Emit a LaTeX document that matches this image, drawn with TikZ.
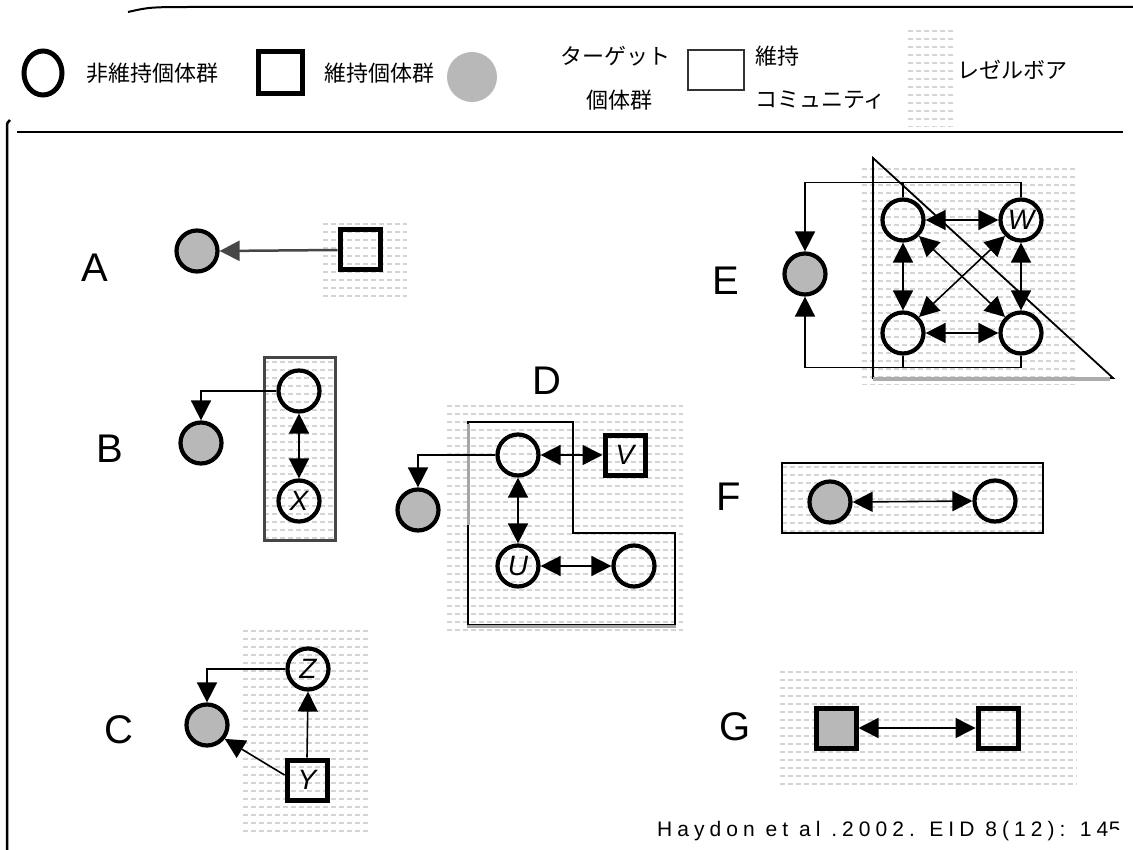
\documentclass[tikz,border=0pt]{standalone}
\usepackage{fontspec}
\setmainfont{Liberation Sans}
\newfontfamily\jpfont{Noto Sans CJK JP}
\newfontfamily\citefont[LetterSpace=24]{Liberation Sans}
\usetikzlibrary{arrows.meta}
\definecolor{tgray}{RGB}{184,184,184}
\definecolor{resdash}{RGB}{212,212,212}
\begin{document}
\begin{tikzpicture}[x=1pt,y=-1pt,
  tipend/.style={-{Triangle[length=20pt,width=20pt]}},
  tipboth/.style={{Triangle[length=20pt,width=20pt]}-{Triangle[length=20pt,width=20pt]}},
  res/.style={path picture={\foreach \k in {0,...,40}{\draw[resdash,line width=1.3pt,dash pattern=on 5pt off 3pt] ([yshift=-\k*8pt-4pt]path picture bounding box.north west) -- ([yshift=-\k*8pt-4pt]path picture bounding box.north east);}}},
  pop/.style={circle,draw,line width=4.2pt,minimum size=41pt,inner sep=0pt,font=\fontsize{28}{28}\selectfont\itshape},
  target/.style={pop,fill=tgray},
  maint/.style={rectangle,draw,line width=5pt,minimum size=40pt,inner sep=0pt,font=\fontsize{28}{28}\selectfont\itshape},
  con/.style={line width=1.6pt},
  lab/.style={font=\fontsize{40}{40}\selectfont},
  jp/.style={font=\jpfont\fontsize{22}{22}\selectfont,inner sep=0pt},
  comm/.style={draw,line width=2pt}
]
\useasboundingbox (0,0) rectangle (1133,850);
% frame lines
\draw[line width=2pt] (128,12) .. controls (150,7) .. (200,7) -- (1133,7);
\draw[line width=2.5pt] (17,132) -- (1123,132);
\draw[line width=2.5pt] (7,850) -- (7,128) .. controls (7,123) .. (10,120);

% legend
\draw[line width=5pt] (43,73) ellipse [x radius=19, y radius=22];
\node[jp,anchor=west] (l1) at (86,73) {非維持個体群};
\node[draw,line width=5pt,minimum width=44pt,minimum height=42pt] (l2s) at (280,73) {};
\node[jp,anchor=west] (l2) at (324,73) {維持個体群};
\fill[tgray] (472,77) circle [radius=25];
\node[jp] (l3a) at (615,56) {ターゲット};
\node[jp] (l3b) at (619,100) {個体群};
\draw[line width=1.8pt,gray!40!black] (688,50) rectangle (744,90);
\node[jp,anchor=west] (l4a) at (755,56) {維持};
\node[jp,anchor=west] (l4b) at (755,100) {コミュニティ};
\path[res] (908,27) rectangle (955,127);
\node[jp,anchor=west] (l5) at (957,70) {レゼルボア};

% reservoirs
\path[res] (323,220) rectangle (407,300);
\path[res] (243,627) rectangle (370,833);
\path[res] (447,402) rectangle (683,630);
\path[res] (862,165) rectangle (1075,385);
\path[res] (780,668) rectangle (1077,788);
\path[res,draw,line width=3pt,gray!55!black] (264,358) rectangle (335,540);
\path[res,draw,line width=2.5pt] (782,463) rectangle (1043,533);

% communities
\draw[comm] (468,422) -- (573,422) -- (573,533) -- (675,533) -- (675,625) -- (468,625) -- cycle;
\draw[line width=3pt,gray!70] (467,626) -- (676,626);
\draw[line width=3pt,gray!70] (468,424) -- (468,525);
\draw[line width=1.8pt] (873,158) -- (1113,378) -- (873,378) -- cycle;
\draw[line width=3.5pt,gray!65] (873,379) -- (1110,379);

% letters
\node[lab] (LA) at (95,268) {A};
\node[lab] (LB) at (110,449) {B};
\node[lab] (LC) at (119,730) {C};
\node[lab] (LD) at (547,381) {D};
\node[lab] (LE) at (726,281) {E};
\node[lab] (LF) at (729,497) {F};
\node[lab] (LG) at (735,727) {G};

% A
\node[target] (gA) at (197,251) {};
\node[maint] (sA) at (360,250) {};
\draw[tipend,line width=2.5pt,gray!55!black] (sA.west) -- (gA.east);

% B
\node[pop] (b1) at (299,391) {};
\node[pop] (bX) at (299,501) {X};
\node[target] (gB) at (201,443) {};
\draw[con,tipend] (b1.west) -| (gB.north);
\draw[con,tipboth] (b1.south) -- (bX.north);

% C
\node[target] (gC) at (207,725) {};
\node[pop] (cZ) at (308,669) {Z};
\node[maint] (cY) at (307,780) {Y};
\draw[con,tipend] (cZ.west) -| (gC.north);
\draw[con,tipend] (cY.north) -- (cZ.south);
\draw[con,tipend] ([yshift=5pt]cY.west) -- (gC.-38);

% D
\node[pop] (d1) at (518,455) {};
\node[maint] (dV) at (625,455) {V};
\node[pop] (dU) at (518,566) {U};
\node[pop] (d2) at (634,566) {};
\node[target] (gD) at (418,510) {};
\draw[con,tipend] (d1.west) -| (gD.north);
\draw[con,tipboth] (d1.east) -- (dV.west);
\draw[con,tipboth] (d1.south) -- (dU.north);
\draw[con,tipboth] (dU.east) -- (d2.west);

% E
\node[target] (gE) at (805,274) {};
\node[pop] (eTL) at (903,220) {};
\node[pop] (eW) at (1021,220) {W};
\node[pop] (eBL) at (903,333) {};
\node[pop] (eBR) at (1021,333) {};
\draw[con,tipend] (eW.north) -- ++(0,-15) -| (gE.north);
\draw[con] (eTL.north) -- ++(0,-15);
\draw[con,tipend] (eBR.south) -- ++(0,12) -| (gE.south);
\draw[con] (eBL.south) -- ++(0,12);
\draw[con,tipboth] (eTL.east) -- (eW.west);
\draw[con,tipboth] (eTL.south) -- (eBL.north);
\draw[con,tipboth] (eW.south) -- (eBR.north);
\draw[con,tipboth] (eBL.east) -- (eBR.west);
\draw[con,tipboth] (eTL.-45) -- (eBR.135);
\draw[con,tipboth] (eW.-135) -- (eBL.45);

% F
\node[target] (gF) at (830,502) {};
\node[pop] (f2) at (995,501) {};
\draw[con,tipboth] (gF.east) -- (f2.west);

% G
\node[maint,fill=tgray] (gG) at (836,728) {};
\node[maint] (g2) at (998,728) {};
\draw[con,tipboth] (gG.east) -- (g2.west);

% citation
\node[anchor=base west,inner sep=0pt,font=\citefont\fontsize{21}{21}\selectfont] (cite) at (657,836) {Haydon et al .2002. EID 8(12): 14};
\begin{scope}
\clip ([yshift=7pt]cite.base east) rectangle ([xshift=20pt,yshift=17pt]cite.base east);
\node[anchor=base west,inner sep=0pt,font=\citefont\fontsize{21}{21}\selectfont] (cite5) at (cite.base east) {5};
\end{scope}
\end{tikzpicture}
\end{document}
